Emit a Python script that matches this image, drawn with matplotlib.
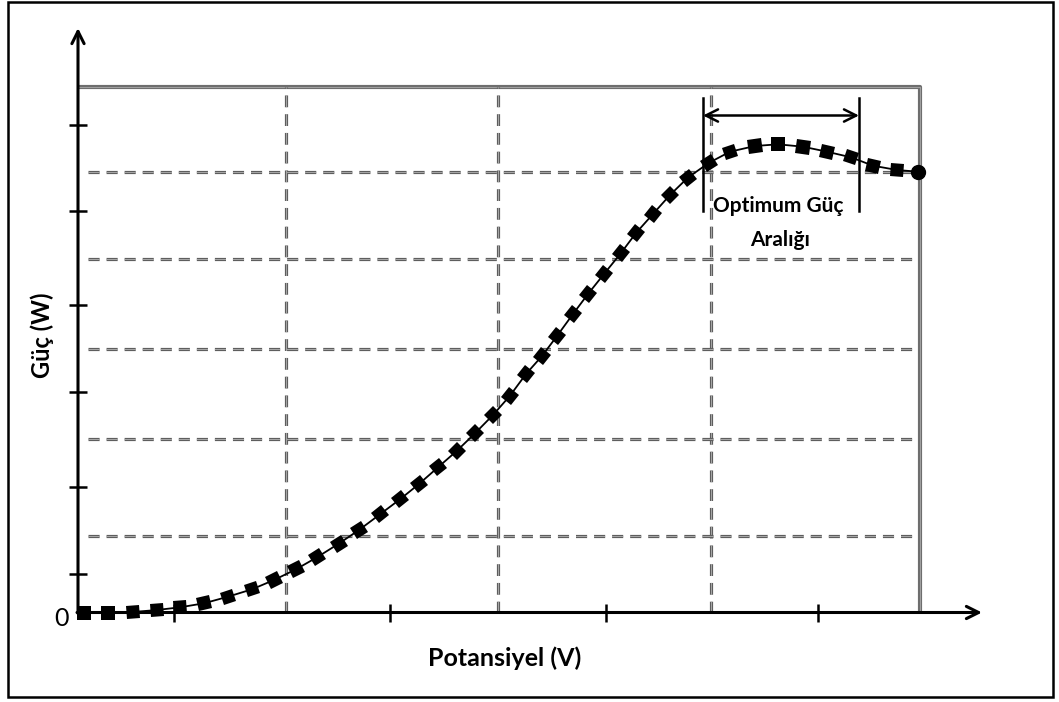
import numpy as np
import matplotlib
matplotlib.use('Agg')
import matplotlib.pyplot as plt
from matplotlib.markers import MarkerStyle
from matplotlib.transforms import Affine2D
from matplotlib.patches import Rectangle

plt.rcParams['font.family'] = ['Lato', 'DejaVu Sans']
plt.rcParams['lines.scale_dashes'] = False

# güç eğrisi (okunan değerler, keyfi birimler)
volt = [0.6, 3.0, 5.5, 7.9, 10.2, 12.6, 15.0, 17.4, 19.6, 21.8, 23.9, 26.1, 28.1,
        30.2, 32.2, 34.1, 36.0, 37.9, 39.7, 41.5, 43.2, 44.8, 46.4, 47.9, 49.5,
        51.0, 52.6, 54.3, 55.8, 57.5, 59.2, 61.0, 63.1, 65.2, 67.7, 70.0, 72.5,
        74.9, 77.3, 79.5, 81.9, 84.0]
guc = [0.0, 0.0, 0.05, 0.25, 0.52, 0.92, 1.58, 2.32, 3.25, 4.32, 5.52, 6.9, 8.25,
       9.82, 11.32, 12.85, 14.52, 16.18, 17.92, 19.75, 21.68, 23.85, 25.65, 27.65,
       29.85, 31.85, 33.85, 35.95, 37.95, 39.85, 41.75, 43.5, 44.97, 46.08, 46.65,
       46.82, 46.58, 46.08, 45.52, 44.68, 44.25, 44.08]

x_ticks = [9.6, 31.2, 52.8, 74.0]
y_ticks = [3.85, 12.55, 22.05, 30.75, 40.15, 48.8]
x_grid = [20.8, 42.0, 63.3]
y_grid = [7.65, 17.35, 26.35, 35.35, 44.05]
box_top = 52.55
box_right = 84.2
opt_range = [62.5, 78.1]

W, H = 1059, 702
fig = plt.figure(figsize=(W / 100, H / 100), dpi=100)
ax = fig.add_axes([78 / W, 89.5 / H, 904 / W, 584.5 / H])
ax.set_xlim(0, 90.4)
ax.set_ylim(0, 58.45)
for s in ax.spines.values():
    s.set_visible(False)

# dış çerçeve
fig.patches.append(Rectangle((8 / W, 5 / H), 1045 / W, 695 / H, transform=fig.transFigure,
                             fill=False, ec='black', lw=1.8))

# gri kutu ve kesikli kılavuz çizgiler (çift çizgi görünümü)
def dbl(xs, ys, dash=None, lw=2.4, c1='#5e5e5e', c2='#b8b8b8'):
    kw = {}
    if dash:
        kw['dashes'] = dash
    ax.plot(xs, ys, color=c1, lw=lw, solid_capstyle='butt', dash_capstyle='butt', zorder=1, **kw)
    ax.plot(xs, ys, color=c2, lw=lw * 0.25, solid_capstyle='butt', dash_capstyle='butt', zorder=1, **kw)

dbl([0, box_right, box_right], [box_top, box_top, 0], lw=3.0, c1='#6e6e6e', c2='#a0a0a0')
for g in x_grid:
    dbl([g, g], [0, box_top], dash=(8.5, 5.0), lw=2.3)
for g in y_grid:
    dbl([1.0, 83.4], [g, g], dash=(8, 5), lw=2.3)

# eksenler
ax.annotate('', xy=(90.4, 0), xytext=(-0.1, 0),
            arrowprops=dict(arrowstyle='->', lw=2.2, color='black', mutation_scale=22, shrinkA=0, shrinkB=0))
ax.annotate('', xy=(0, 58.45), xytext=(0, -0.1),
            arrowprops=dict(arrowstyle='->', lw=2.2, color='black', mutation_scale=22, shrinkA=0, shrinkB=0))
ax.set_xticks(x_ticks)
ax.set_yticks(y_ticks)
ax.set_xticklabels([])
ax.set_yticklabels([])
ax.tick_params(direction='inout', length=13, width=1.8, color='black')
ax.text(-1.65, -0.55, '0', ha='center', va='center', fontsize=18)

# eğri
ax.plot(volt, guc, color='black', lw=1.3, zorder=3)
ang = np.degrees(np.arctan2(np.gradient(guc), np.gradient(volt)))
for xv, yv, a in zip(volt[:-1], guc[:-1], ang[:-1]):
    m = MarkerStyle('s', transform=Affine2D().rotate_deg(a))
    ax.plot(xv, yv, marker=m, color='black', ms=9.5, mew=0, zorder=4, clip_on=False)
ax.plot(volt[-1], guc[-1], 'o', color='black', ms=10, zorder=4, clip_on=False)

# optimum güç aralığı
for xo in opt_range:
    ax.plot([xo, xo], [40.2, 51.5], color='black', lw=1.8, zorder=5)
ax.annotate('', xy=(opt_range[1], 49.7), xytext=(opt_range[0], 49.7),
            arrowprops=dict(arrowstyle='<->', lw=1.8, color='black', mutation_scale=22, shrinkA=0, shrinkB=0))
ax.text(70.0, 40.7, 'Optimum Güç', ha='center', va='center', fontsize=15, fontweight='bold')
ax.text(70.2, 37.3, 'Aralığı', ha='center', va='center', fontsize=15, fontweight='bold')

fig.text(505 / W, 1 - 658 / H, 'Potansiyel (V)', ha='center', va='center', fontsize=18, fontweight='bold')
fig.text(42 / W, 1 - 335 / H, 'Güç (W)', ha='center', va='center', rotation=90, fontsize=17, fontweight='bold')

fig.savefig('out.png', dpi=100)
